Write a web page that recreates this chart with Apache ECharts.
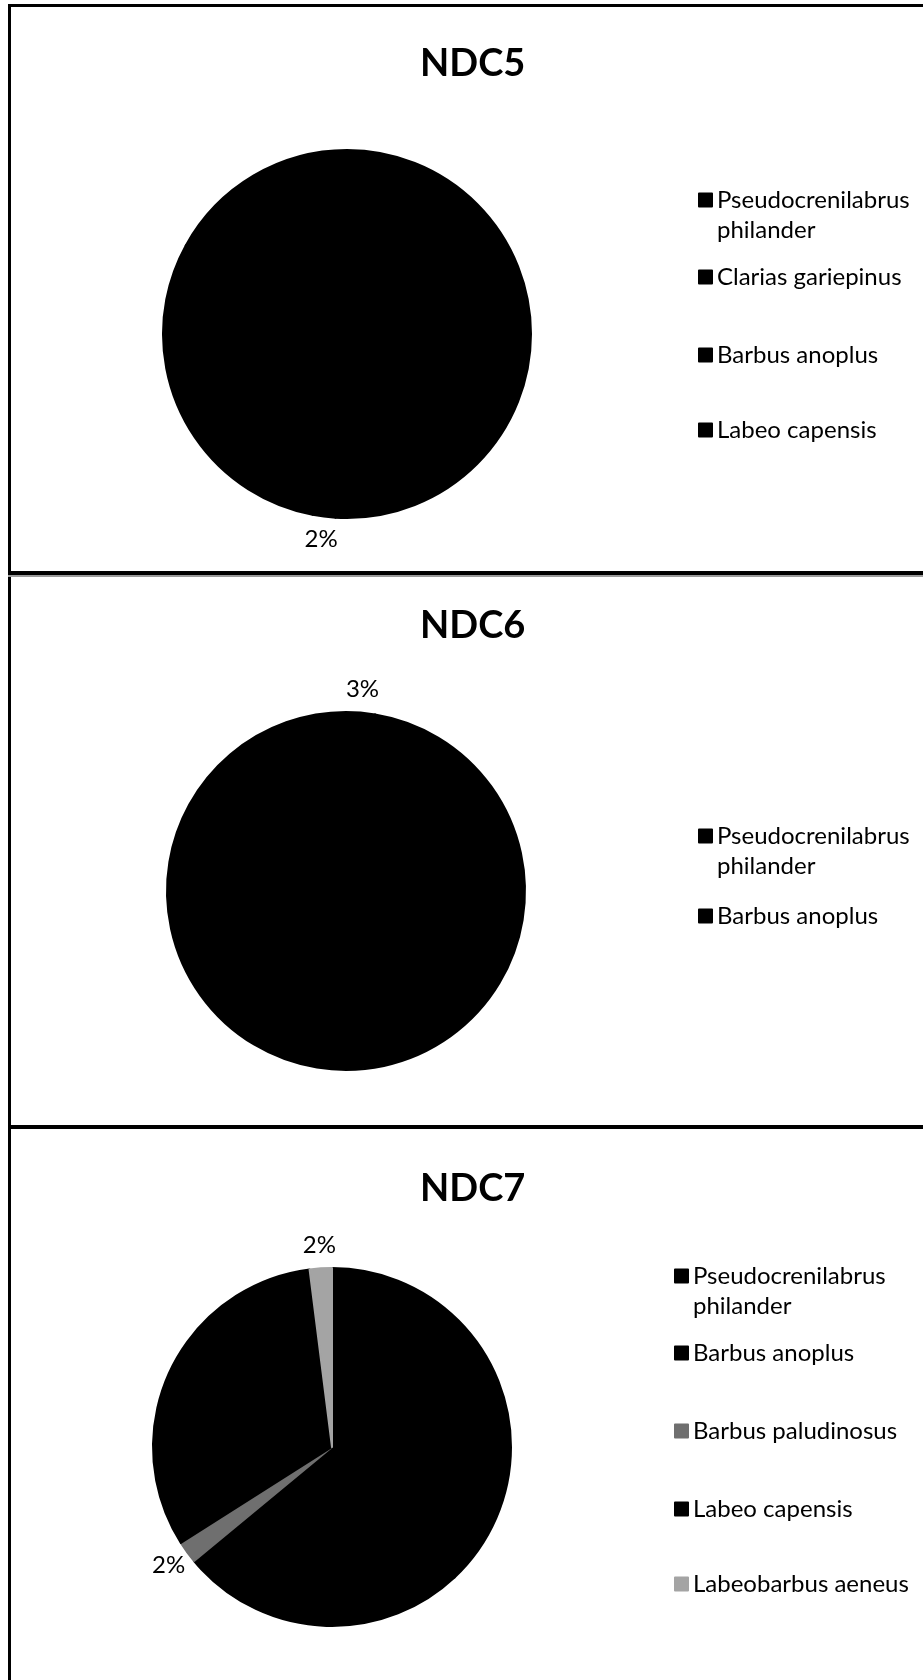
<!DOCTYPE html>
<html>
<head>
<meta charset="utf-8">
<script src="https://cdn.jsdelivr.net/npm/echarts@6/dist/echarts.min.js"></script>
<style>
  html, body { margin: 0; padding: 0; background: #fff; }
  #chart { width: 923px; height: 1680px; }
</style>
</head>
<body>
<div id="chart"></div>
<script>
// ---- data ----
const titles = ['NDC5', 'NDC6', 'NDC7'];
const ndc5Species = ['Pseudocrenilabrus philander', 'Clarias gariepinus', 'Barbus anoplus', 'Labeo capensis'];
const ndc5Values = [51, 2, 30, 17];
const ndc6Species = ['Pseudocrenilabrus philander', 'Barbus anoplus'];
const ndc6Values = [2.6, 97.4];
const ndc7Species = ['Pseudocrenilabrus philander', 'Barbus anoplus', 'Barbus paludinosus', 'Labeo capensis', 'Labeobarbus aeneus'];
const ndc7Values = [38, 26, 2, 32, 2];

// ---- styling / layout ----
const speciesColors = {
  'Pseudocrenilabrus philander': '#000000',
  'Clarias gariepinus': '#000000',
  'Barbus anoplus': '#000000',
  'Labeo capensis': '#000000',
  'Barbus paludinosus': '#6f6f6f',
  'Labeobarbus aeneus': '#a4a4a4'
};
const FONT = 'Lato';
const LEG_FS = 24, LEG_LH = 30, ICON = 13;
const panels = [
  { species: ndc5Species, values: ndc5Values, center: [347, 334], r: 184, titleTop: 45, legendLeft: 698, legendCenters: [200, 277, 355, 430] },
  { species: ndc6Species, values: ndc6Values, center: [346, 891], r: 179, titleTop: 607, legendLeft: 698, legendCenters: [836, 916] },
  { species: ndc7Species, values: ndc7Values, center: [332, 1447], r: 179, titleTop: 1170, legendLeft: 674, legendCenters: [1276, 1353, 1431, 1509, 1584] }
];

// long names wrap onto two lines; a leading empty line keeps the marker level with the first line
function isLong(n) { return n.length > 20; }
function wrapName(n) { return isLong(n) ? '\n' + n.replace(' ', '\n') : n; }

const title = [], legend = [], pies = [], rings = [];
panels.forEach((p, i) => {
  title.push({
    text: titles[i], left: 420, top: p.titleTop, padding: 0,
    textStyle: { fontFamily: FONT, fontWeight: 'bold', fontSize: 38, color: '#000' }
  });
  const total = p.values.reduce((a, b) => a + b, 0);
  pies.push({
    type: 'pie', name: titles[i], center: p.center, radius: p.r,
    startAngle: 90, clockwise: true, silent: true,
    label: { show: false }, labelLine: { show: false },
    emphasis: { disabled: true },
    data: p.species.map((s, k) => ({
      name: s, value: p.values[k],
      itemStyle: { color: speciesColors[s], borderColor: speciesColors[s], borderWidth: 2 }
    }))
  });
  rings.push({
    type: 'pie', name: titles[i] + ' labels', center: p.center, radius: [p.r + 8, p.r + 32],
    startAngle: 90, clockwise: true, silent: true, percentPrecision: 0,
    avoidLabelOverlap: false,
    itemStyle: { color: 'rgba(0,0,0,0)', borderWidth: 0 },
    labelLine: { show: false },
    emphasis: { disabled: true },
    label: { position: 'inside', formatter: '{d}%', fontFamily: FONT, fontSize: LEG_FS, color: '#000' },
    data: p.species.map((s, k) => ({ name: s, value: p.values[k], label: { show: p.values[k] / total < 0.05 } }))
  });
  p.species.forEach((s, k) => {
    const c = p.legendCenters[k];
    const lines = isLong(s) ? 3 : 1;
    legend.push({
      data: [{ name: s, icon: 'rect' }],
      left: p.legendLeft,
      top: c - lines * LEG_LH / 2,
      padding: 0, itemWidth: ICON, itemHeight: ICON,
      selectedMode: false,
      formatter: wrapName,
      textStyle: { fontFamily: FONT, fontSize: LEG_FS, lineHeight: LEG_LH, color: '#000' }
    });
  });
});

const lineStyle = { fill: '#000' };
const graphic = [
  { type: 'rect', shape: { x: 8, y: 4, width: 915, height: 3 }, style: lineStyle },
  { type: 'rect', shape: { x: 8, y: 4, width: 3, height: 1676 }, style: lineStyle },
  { type: 'rect', shape: { x: 8, y: 571, width: 915, height: 4 }, style: lineStyle },
  { type: 'rect', shape: { x: 8, y: 575, width: 915, height: 2 }, style: { fill: '#9a9a9a' } },
  { type: 'rect', shape: { x: 8, y: 1125, width: 915, height: 4 }, style: lineStyle }
];

const chart = echarts.init(document.getElementById('chart'), null, { renderer: 'canvas' });
chart.setOption({
  backgroundColor: '#fff',
  animation: false,
  title: title,
  legend: legend,
  graphic: graphic,
  series: pies.concat(rings)
});
</script>
</body>
</html>
